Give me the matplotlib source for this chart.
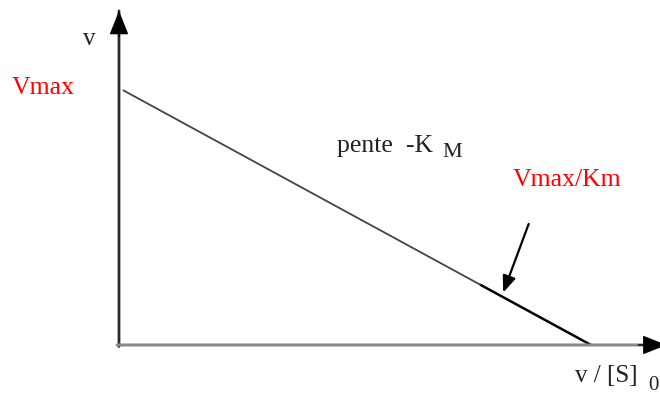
import matplotlib
matplotlib.use("Agg")
import matplotlib.pyplot as plt
import numpy as np

# Eadie-Hofstee plot: v against v/[S]0, straight line of slope -KM
vmax = 1.0          # intercept on the v axis
x_intercept = 1.0   # intercept on the v/[S]0 axis (Vmax/Km)
x_start = 0.008
x_dark = 0.765      # where the line turns to the heavier black stroke

plt.rcParams["font.family"] = ["Liberation Serif", "DejaVu Serif"]


def line_v(x):
    return vmax * (1 - x / x_intercept)


fig = plt.figure(figsize=(6.6, 3.94), dpi=100)
ax = fig.add_axes([0, 0, 1, 1])
ax.set_xlim(-0.2521, 1.1462)
ax.set_ylim(-0.1907, 1.3424)
ax.axis("off")

# axes with arrow heads
ax.annotate("", xy=(0, 1.30), xytext=(0, -0.006), annotation_clip=False,
            arrowprops=dict(arrowstyle="-", lw=2.0, color="#2a2a2a",
                            shrinkA=0, shrinkB=0))
ax.annotate("", xy=(0, 1.30), xytext=(0, 1.2), annotation_clip=False,
            arrowprops=dict(arrowstyle="-|>,head_length=1.5,head_width=0.6",
                            lw=1.0, color="black", shrinkA=0, shrinkB=0))
ax.annotate("", xy=(1.16, 0), xytext=(-0.004, 0), annotation_clip=False,
            arrowprops=dict(arrowstyle="-", lw=2.2, color="#8a8a8a",
                            shrinkA=0, shrinkB=0))
ax.annotate("", xy=(1.16, 0), xytext=(1.10, 0), annotation_clip=False,
            arrowprops=dict(arrowstyle="-|>,head_length=1.5,head_width=0.6",
                            lw=1.0, color="black", shrinkA=0, shrinkB=0))

# the line itself
xs = np.array([x_start, x_dark])
ax.plot(xs, line_v(xs), color="#444444", lw=1.3, solid_capstyle="butt")
xs = np.array([x_dark, x_intercept])
ax.plot(xs, line_v(xs), color="black", lw=1.8, solid_capstyle="butt")

# pointer to the x intercept
ax.annotate("", xy=(0.814, 0.204), xytext=(0.868, 0.471),
            arrowprops=dict(arrowstyle="-|>,head_length=1.0,head_width=0.4",
                            color="black", lw=1.6, shrinkA=0, shrinkB=0))

ax.text(-0.076, 1.167, "v", fontsize=18, color="#222222", ha="left", va="baseline")
ax.text(-0.227, 0.977, "Vmax", fontsize=18.5, color="red", ha="left", va="baseline")
ax.text(0.462, 0.751, "pente  -K", fontsize=18.5, color="#222222", ha="left", va="baseline")
ax.text(0.686, 0.732, "M", fontsize=16, color="#222222", ha="left", va="baseline")
ax.text(0.835, 0.619, "Vmax/Km", fontsize=18.5, color="red", ha="left", va="baseline")
ax.text(0.966, -0.144, "v / [S]", fontsize=18, color="#222222", ha="left", va="baseline")
ax.text(1.122, -0.176, "0", fontsize=15, color="#222222", ha="left", va="baseline")

fig.savefig("out.png", dpi=100)
